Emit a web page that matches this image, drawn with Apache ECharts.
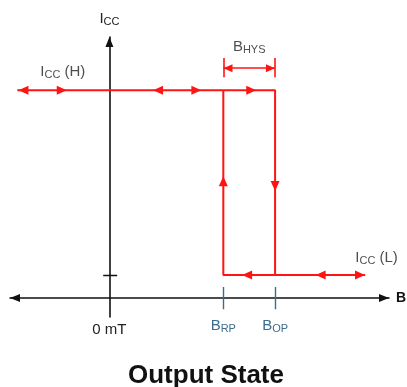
<!DOCTYPE html>
<html>
<head>
<meta charset="utf-8">
<script src="https://cdn.jsdelivr.net/npm/echarts@6/dist/echarts.min.js"></script>
<style>
  html, body { margin: 0; padding: 0; background: #fff; }
  #chart { width: 407px; height: 387px; }
</style>
</head>
<body>
<div id="chart"></div>
<script>
// switching points on the B axis and the two supply current levels (schematic units)
const bRP = 11
const bOP = 16
const iccL = 1
const iccH = 9
const bRange = [-9.6, 27]
const iccRange = [-0.82, 11.3]

// output state trace
const upperTrace = [[-8.9, iccH], [bOP, iccH], [bOP, iccL]]
const lowerTrace = [[bRP, iccH], [bRP, iccL], [24.7, iccL]]

// arrowheads along the trace: [B, Icc, direction]
const traceArrows = [
    [-8.3, iccH, 'left'], [-4.6, iccH, 'right'],
    [4.7, iccH, 'left'], [8.4, iccH, 'right'],
    [13.7, iccH, 'right'],
    [13.3, iccL, 'left'], [20.4, iccL, 'left'], [24.2, iccL, 'right'],
    [bRP, 5.06, 'up'], [bOP, 4.85, 'down']
]

// hysteresis bracket
const hysLevel = 9.95
const hysArrows = [[11.45, hysLevel, 'left'], [15.55, hysLevel, 'right']]

// axis labels on B axis
const bTickValues = [0, bRP, bOP]
const bTickLabels = ['{k|0 mT}', '{b|B}{bs|RP}', '{b|B}{bs|OP}']

const red = '#ff1414'
const blue = '#3d6d8d'
const font = 'Liberation Sans'
const rot = { up: 0, left: 90, down: 180, right: -90 }

const richText = {
    m: { fontSize: 15, color: '#222', fontFamily: font },
    s: { fontSize: 11, color: '#222', fontFamily: font, padding: [5, 0, 0, 0] },
    k: { fontSize: 15, color: '#222', fontFamily: font, padding: [4, 0, 0, 0] },
    b: { fontSize: 15, color: blue, fontFamily: font },
    bs: { fontSize: 11, color: blue, fontFamily: font, padding: [5, 0, 0, 0] }
}

const chart = echarts.init(document.getElementById('chart'))

const arrowItem = a => ({ value: [a[0], a[1]], symbolRotate: rot[a[2]] })
const seg = (x1, y1, x2, y2) => ({ coords: [[x1, y1], [x2, y2]] })

chart.setOption({
    animation: false,
    title: {
        text: 'Output State',
        left: 123,
        top: 358,
        textStyle: { fontSize: 26, fontWeight: 'bold', color: '#111', fontFamily: font }
    },
    grid: { left: 10, right: 18, top: 37, bottom: 70, outerBoundsMode: 'none' },
    xAxis: {
        type: 'value',
        min: bRange[0],
        max: bRange[1],
        name: 'B',
        nameLocation: 'end',
        nameGap: 7,
        nameTextStyle: { fontSize: 14, fontWeight: 'bold', color: '#111', fontFamily: font },
        splitLine: { show: false },
        axisLine: {
            onZero: true,
            symbol: ['triangle', 'triangle'],
            symbolSize: [8, 10],
            symbolOffset: [5, -5],
            lineStyle: { color: '#111', width: 1.6 }
        },
        axisTick: { show: false },
        axisLabel: {
            customValues: bTickValues,
            margin: 1,
            formatter: v => bTickLabels[bTickValues.indexOf(v)] || '',
            rich: richText
        }
    },
    yAxis: {
        type: 'value',
        min: iccRange[0],
        max: iccRange[1],
        name: '{m|I}{s|CC}',
        nameLocation: 'end',
        nameGap: 10,
        nameTextStyle: { rich: richText },
        splitLine: { show: false },
        axisLine: {
            onZero: true,
            symbol: ['none', 'triangle'],
            symbolSize: [8, 10],
            symbolOffset: [0, -5],
            lineStyle: { color: '#111', width: 1.6 }
        },
        axisTick: { show: false },
        axisLabel: { show: false }
    },
    series: [
        {
            type: 'line',
            data: upperTrace,
            symbol: 'none',
            lineStyle: { color: red, width: 2 },
            z: 3
        },
        {
            type: 'line',
            data: lowerTrace,
            symbol: 'none',
            lineStyle: { color: red, width: 2 },
            z: 3
        },
        {
            type: 'lines',
            coordinateSystem: 'cartesian2d',
            lineStyle: { color: red, width: 1.6, opacity: 1 },
            data: [
                seg(bRP, 10.39, bRP, 9.56),
                seg(bOP, 10.39, bOP, 9.56),
                seg(bRP, hysLevel, bOP, hysLevel)
            ],
            z: 3
        },
        {
            type: 'lines',
            coordinateSystem: 'cartesian2d',
            lineStyle: { color: blue, width: 1.4, opacity: 1 },
            data: [seg(bRP, 0.48, bRP, -0.48), seg(bOP, 0.48, bOP, -0.48)],
            z: 3
        },
        {
            type: 'lines',
            coordinateSystem: 'cartesian2d',
            lineStyle: { color: '#111', width: 1.4, opacity: 1 },
            data: [seg(-0.6, iccL, 0.75, iccL)],
            z: 3
        },
        {
            type: 'scatter',
            symbol: 'triangle',
            symbolSize: [9, 10],
            itemStyle: { color: red, opacity: 1 },
            data: traceArrows.map(arrowItem),
            z: 4
        },
        {
            type: 'scatter',
            symbol: 'triangle',
            symbolSize: [8, 9],
            itemStyle: { color: red, opacity: 1 },
            data: hysArrows.map(arrowItem),
            z: 4
        },
        {
            type: 'scatter',
            symbolSize: 0,
            silent: true,
            label: {
                show: true,
                position: 'inside',
                formatter: p => p.data.text,
                rich: richText
            },
            data: [
                { value: [-4.5, 9.78], text: '{m|I}{s|CC}{m| (H)}' },
                { value: [25.8, 1.73], text: '{m|I}{s|CC}{m| (L)}' },
                { value: [(bRP + bOP) / 2, 10.86], text: '{m|B}{s|HYS}' }
            ],
            z: 5
        }
    ]
})
</script>
</body>
</html>
